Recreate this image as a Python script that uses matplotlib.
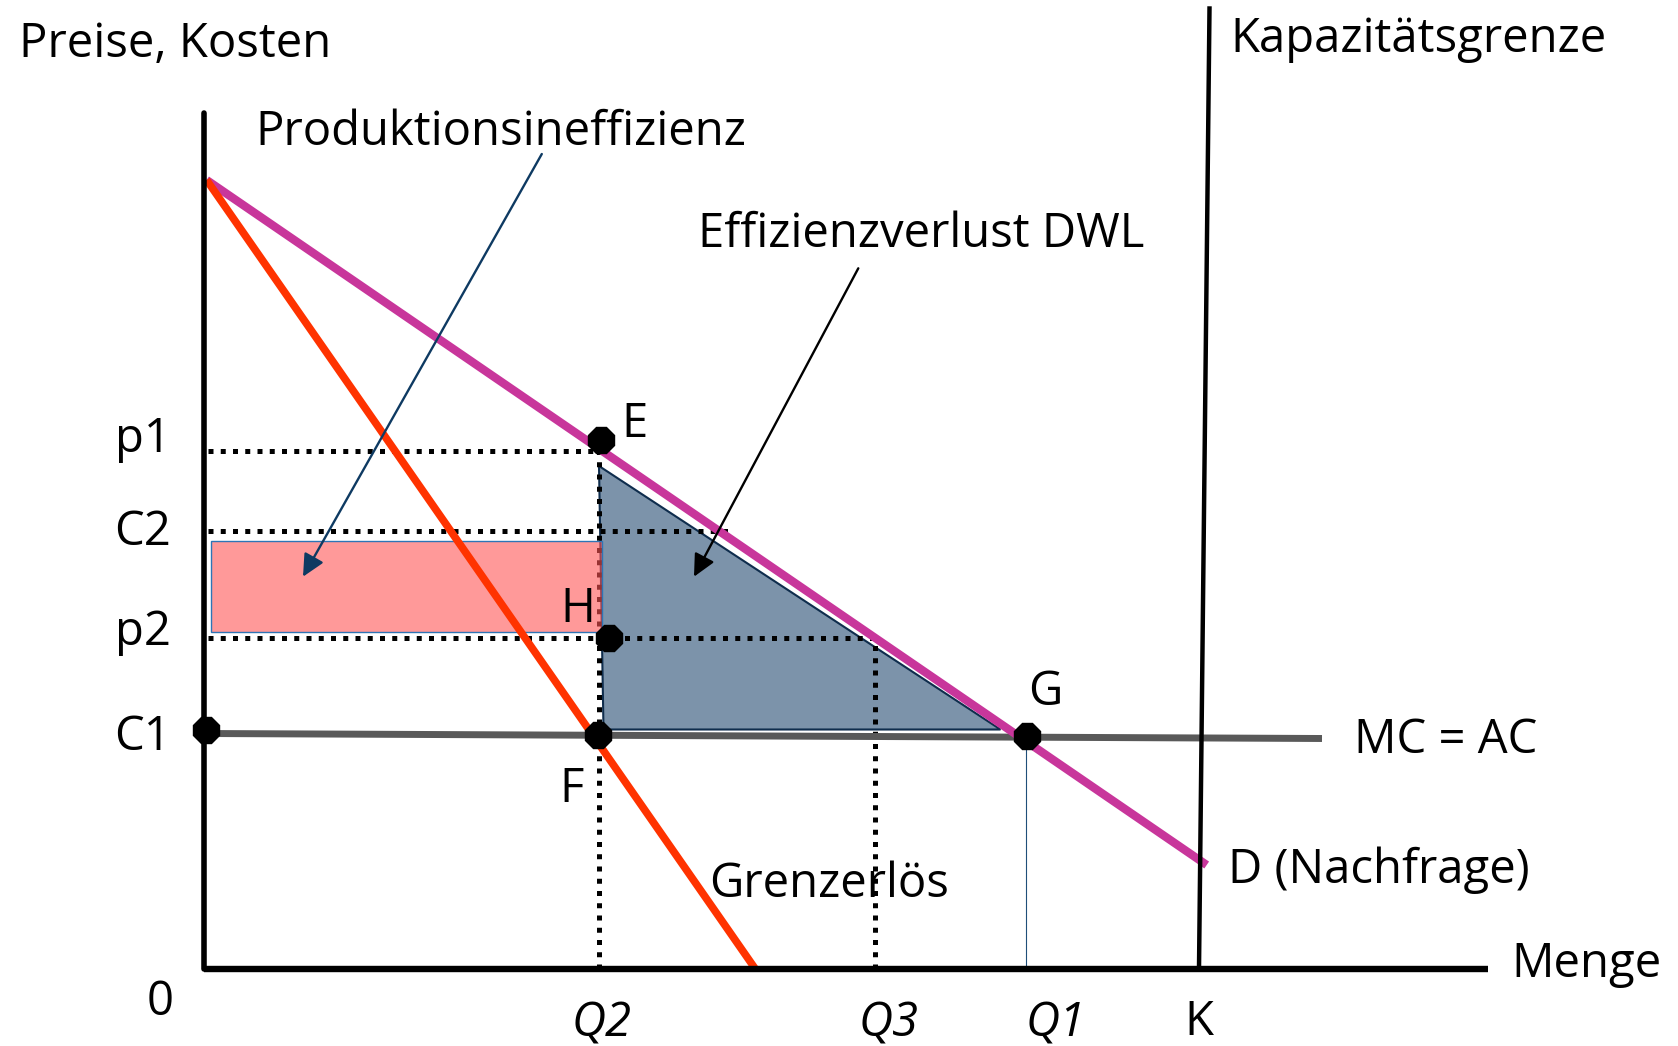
import matplotlib
matplotlib.use("Agg")
import matplotlib.pyplot as plt
from matplotlib.patches import Polygon, Rectangle

plt.rcParams['font.family'] = ['Open Sans', 'DejaVu Sans']

# ---- data (quantity / price units of the diagram) ----
axis_q_end = 128.4
axis_p_end = 85.55

demand_q = [0.26, 100.27]
demand_p = [78.85, 10.35]

mr_q = [0.26, 55.1]
mr_p = [78.85, 0.0]

mc_q = [0.2, 111.8]
mc_p = [23.5, 23.0]

cap_q = [99.5, 100.55]
cap_p = [0.0, 96.0]

Q2, Q3, Q1 = 39.5, 67.1, 82.2
p1, C2, p2 = 51.8, 43.75, 33.05

dot_start = 0.4
p1_end, C2_end, p2_end = 39.7, 52.4, 67.1
q1_top = 23.3

rect_q = [0.67, 39.8]
rect_p = [33.62, 42.78]

dwl_q = [39.5, 39.95, 79.65]
dwl_p = [50.25, 23.9, 23.9]

point_names = ['E', 'H', 'F', 'C1', 'G']
point_q = [39.67, 40.53, 39.43, 0.2, 82.3]
point_p = [52.85, 33.08, 23.35, 23.85, 23.25]

arrow_prod = [(33.78, 81.45), (9.9, 39.18)]
arrow_dwl = [(65.43, 70.02), (49.0, 39.18)]

price_labels = ['p1', 'C2', 'p2', 'C1']
price_label_y = [51.68, 42.35, 32.35, 21.85]
qty_labels = ['Q2', 'Q3', 'Q1']
qty_label_x = [39.8, 68.47, 85.17]

# ---- figure ----
fig = plt.figure(figsize=(16.78, 10.46), dpi=100)
ax = fig.add_axes([0, 0, 1, 1])
ax.set_xlim(-20.4, 147.4)
ax.set_ylim(-7.75, 96.85)
ax.axis('off')

FS = 34
dots = (0, (1, 1.45))

# DWL triangle
ax.add_patch(Polygon(list(zip(dwl_q, dwl_p)), closed=True, facecolor='#7C93AA',
                     edgecolor='#0F2D4D', lw=1.5, zorder=1))

# dotted guide lines
kw = dict(color='black', lw=3.6, linestyle=dots, dash_capstyle='butt', zorder=2)
ax.plot([dot_start, p1_end], [p1, p1], **kw)
ax.plot([dot_start, C2_end], [C2, C2], **kw)
ax.plot([dot_start, p2_end], [p2, p2], **kw)
ax.plot([Q2, Q2], [0, p1], **kw)
ax.plot([Q3, Q3], [0, p2], **kw)
ax.plot([Q1, Q1], [0, q1_top], color='#1F4E79', lw=0.8, zorder=2)

# production inefficiency rectangle
ax.add_patch(Rectangle((rect_q[0], rect_p[0]), rect_q[1] - rect_q[0], rect_p[1] - rect_p[0],
                       facecolor='#FF5555', alpha=0.6, edgecolor='none', zorder=3))
ax.add_patch(Rectangle((rect_q[0], rect_p[0]), rect_q[1] - rect_q[0], rect_p[1] - rect_p[0],
                       facecolor='none', edgecolor='#2E75B6', lw=1.0, zorder=3))

# curves
ax.plot(mc_q, mc_p, color='#595959', lw=5.0, solid_capstyle='butt', zorder=4)
ax.plot(demand_q, demand_p, color='#C8369B', lw=6.0, solid_capstyle='butt', zorder=4)
ax.plot(mr_q, mr_p, color='#FF3300', lw=5.5, solid_capstyle='butt', zorder=5)
ax.plot(cap_q, cap_p, color='black', lw=3.2, zorder=5)

# axes
ax.plot([0, 0], [0, axis_p_end], color='black', lw=4.0, solid_capstyle='round', zorder=6)
ax.plot([0, axis_q_end], [0, 0], color='black', lw=4.6, solid_capstyle='butt', zorder=6)

# points
ax.plot(point_q, point_p, linestyle='none', marker='8', markersize=19.5,
        color='black', zorder=8)

# arrows
ax.annotate('', xy=arrow_prod[1], xytext=arrow_prod[0],
            arrowprops=dict(arrowstyle='-|>,head_length=0.45,head_width=0.22',
                            mutation_scale=30, color='#0E3A62', lw=1.7,
                            shrinkA=0, shrinkB=0), zorder=7)
ax.annotate('', xy=arrow_dwl[1], xytext=arrow_dwl[0],
            arrowprops=dict(arrowstyle='-|>,head_length=0.45,head_width=0.22',
                            mutation_scale=30, color='black', lw=1.7,
                            shrinkA=0, shrinkB=0), zorder=7)

# texts
def t(x, y, s, ha='left', style='normal'):
    ax.text(x, y, s, fontsize=FS, ha=ha, va='baseline', style=style, zorder=9)

t(-18.46, 91.18, 'Preise, Kosten')
t(5.1, 82.35, 'Produktionsineffizienz')
t(49.43, 72.18, 'Effizienzverlust DWL')
t(102.68, 91.68, 'Kapazitätsgrenze')
for lab, y in zip(price_labels, price_label_y):
    t(-3.3, y, lab, ha='right')
t(41.77, 53.18, 'E')
t(35.67, 34.62, 'H')
t(82.4, 26.35, 'G')
t(35.58, 16.62, 'F')
t(114.96, 21.52, 'MC = AC')
t(102.4, 8.52, 'D (Nachfrage)')
t(50.54, 7.18, 'Grenzerlös')
t(130.78, -0.85, 'Menge')
t(-4.34, -4.65, '0', ha='center')
for lab, x in zip(qty_labels, qty_label_x):
    t(x, -6.85, lab, ha='center', style='italic')
t(99.5, -6.65, 'K', ha='center')

fig.savefig('out.png', dpi=100)
